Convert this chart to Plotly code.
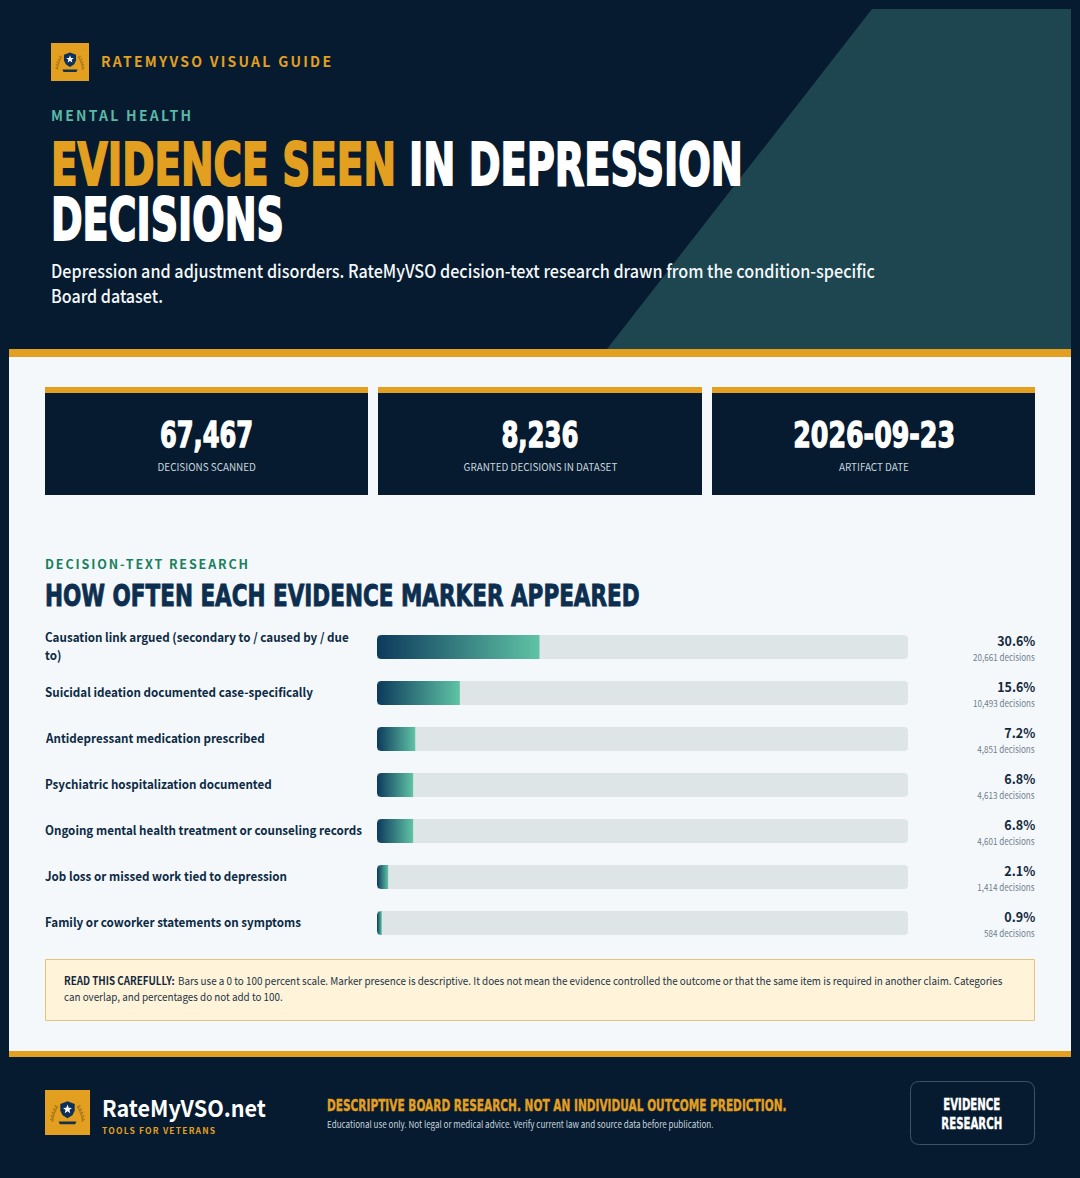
import json
import numpy as np
import plotly.graph_objects as go

W, H = 1080, 1178

categories = [
    "Causation link argued (secondary to / caused by / due<br>to)",
    "Suicidal ideation documented case-specifically",
    "Antidepressant medication prescribed",
    "Psychiatric hospitalization documented",
    "Ongoing mental health treatment or counseling records",
    "Job loss or missed work tied to depression",
    "Family or coworker statements on symptoms",
]
percents = [30.6, 15.6, 7.2, 6.8, 6.8, 2.1, 0.9]
counts = [20661, 10493, 4851, 4613, 4601, 1414, 584]
stat_values = ["67,467", "8,236", "2026-09-23"]
stat_labels = ["DECISIONS SCANNED", "GRANTED DECISIONS IN DATASET", "ARTIFACT DATE"]

NAVY = "#061b2f"; GOLD = "#e3a020"; PANEL = "#f4f8fb"; TEAL = "#1d4650"; TRACK = "#dde5e7"
INK = "#0c2a44"
SANS = "Noto Sans CJK SC"
HEAVY = "DejaVu Sans"

px_x = lambda x: x / W
px_y = lambda y: 1 - y / H
annotations, shapes, fx = [], [], {}

def T(text, x, y, size, color, family=SANS, weight=400, anchor="left", w=None, adj="glyphs", stroke=None, sx=None):
    i = len(annotations)
    annotations.append(dict(text=text, x=px_x(x), y=px_y(y), xref="paper", yref="paper", showarrow=False,
                            xanchor=anchor, yanchor="middle", align=anchor, borderpad=0, borderwidth=0,
                            font=dict(family=family, size=size, color=color, weight=weight)))
    e = {}
    if w: e.update(w=w, adj=adj)
    if sx: e.update(sx=sx)
    if stroke: e.update(stroke=stroke, col=color)
    if e: fx[i] = e

def rect(x0, y0, x1, y1, fill, line=None, lw=0):
    shapes.append(dict(type="rect", xref="paper", yref="paper", x0=px_x(x0), x1=px_x(x1), y0=px_y(y0), y1=px_y(y1),
                       fillcolor=fill, line=dict(color=line or fill, width=lw), layer="below"))

def path(points, fill=None, line=None, lw=0, close=True):
    d = "M" + " L".join(f"{px_x(a):.5f},{px_y(b):.5f}" for a, b in points) + (" Z" if close else "")
    shapes.append(dict(type="path", path=d, xref="paper", yref="paper", fillcolor=fill or "rgba(0,0,0,0)",
                       line=dict(color=line or "rgba(0,0,0,0)", width=lw), layer="below"))

def logo(x, y, s):
    rect(x, y, x + s, y + s, GOLD)
    P = lambda u, v: (x + u * s, y + v * s)
    for side in (-1, 1):
        arc = [P(.5 + side * (.16 + .17 * np.sin(t)), .26 + t * .28) for t in np.linspace(.35, 1.6, 7)]
        path(arc, line="#b07a1a", lw=max(1, s / 30), close=False)
        for t in np.linspace(.45, 1.5, 5):
            a = P(.5 + side * (.16 + .17 * np.sin(t)), .26 + t * .28)
            b = (a[0] + side * s * .05, a[1] - s * .045)
            path([a, b], line="#b07a1a", lw=max(1, s / 28), close=False)
    path([P(.34, .31), P(.5, .25), P(.66, .31), P(.66, .46), P(.61, .56), P(.5, .63), P(.39, .56), P(.34, .46)], fill="#0e2f57")
    star = [P(.5 + (.105 if k % 2 == 0 else .045) * np.sin(k * np.pi / 5), .43 - (.105 if k % 2 == 0 else .045) * np.cos(k * np.pi / 5)) for k in range(10)]
    path(star, fill="#ffffff")
    path([P(.3, .7), P(.7, .7), P(.67, .76), P(.33, .76)], fill="#17304a")

# frame and header
path([(872, 9), (1071, 9), (1071, 349), (607, 349)], fill=TEAL)
rect(9, 349, 1071, 357, GOLD)
rect(9, 357, 1071, 1051, PANEL)
rect(9, 1051, 1071, 1057, GOLD)

logo(51, 43, 38)
T("RATEMYVSO VISUAL GUIDE", 101, 61.5, 14, GOLD, weight=700, w=230, adj="spacing")
T("MENTAL HEALTH", 51, 115.5, 14, "#5bb8a6", weight=700, w=140, adj="spacing")
T("EVIDENCE SEEN", 51, 165, 58, GOLD, HEAVY, 700, w=345, stroke=2)
T("IN DEPRESSION", 409, 165, 58, "#ffffff", HEAVY, 700, w=334, stroke=2)
T("DECISIONS", 51, 220, 58, "#ffffff", HEAVY, 700, w=233, stroke=2)
T("Depression and adjustment disorders. RateMyVSO decision-text research drawn from the condition-specific", 51, 270, 18, "#f4f8fb", weight=500, w=824)
T("Board dataset.", 51, 295, 18, "#f4f8fb", weight=500, w=112)

# stat cards
for (x0, x1), v, l, vw in zip([(45, 368), (378, 702), (712, 1035)], stat_values, stat_labels, [93, 77, 162]):
    rect(x0, 387, x1, 393, GOLD)
    rect(x0, 393, x1, 495, NAVY)
    c = (x0 + x1) / 2
    T(v, c, 434.5, 36, "#ffffff", HEAVY, 700, "center", w=vw, stroke=1.4)
    T(l, c, 465.5, 11, "#c9d5de", anchor="center", sx=0.9)

# section heading
T("DECISION-TEXT RESEARCH", 45, 563.5, 12.5, "#17805f", weight=700, w=203, adj="spacing")
T("HOW OFTEN EACH EVIDENCE MARKER APPEARED", 45, 594.5, 31, "#0d2f4f", HEAVY, 700, w=595, stroke=1)

# rows
row_px = lambda i: 647 + 46 * i
for i, (cat, p, n) in enumerate(zip(categories, percents, counts)):
    lines = cat.split("<br>")
    for k, line in enumerate(lines):
        T(line, 45, row_px(i) - 1.5 + (k - (len(lines) - 1) / 2) * 18, 12.5, INK, weight=700, sx=0.93)
    T(f"{p}%", 1035, row_px(i) - 7.5, 13.5, "#14293d", weight=700, anchor="right", w=38 if p >= 10 else 31)
    T(f"{n:,} decisions", 1035, row_px(i) + 9.5, 9.5, "#6f7e8b", anchor="right", sx=0.85)

# note
rect(45.5, 959.5, 1034.5, 1020.5, "#fff3d9", "#e2c47c", 1)
T("READ THIS CAREFULLY:", 64, 979.5, 11, "#14293d", weight=700, w=111)
T("Bars use a 0 to 100 percent scale. Marker presence is descriptive. It does not mean the evidence controlled the outcome or that the same item is required in another claim. Categories", 177.5, 979.5, 11, "#223548", w=824.5)
T("can overlap, and percentages do not add to 100.", 64, 995.5, 11, "#223548", w=219)

# footer
logo(45, 1090, 45)
T("RateMyVSO.net", 102, 1106.5, 23, "#ffffff", weight=700, w=164)
T("TOOLS FOR VETERANS", 102, 1129.5, 8.5, GOLD, weight=700, w=113, adj="spacing")
T("DESCRIPTIVE BOARD RESEARCH. NOT AN INDIVIDUAL OUTCOME PREDICTION.", 327, 1105, 16, GOLD, HEAVY, 700, w=460, stroke=0.4)
T("Educational use only. Not legal or medical advice. Verify current law and source data before publication.", 327, 1123.5, 9.5, "#c9d5de", w=387)
r = 9; bx0, by0, bx1, by1 = 910.5, 1081.5, 1034.5, 1144.5
shapes.append(dict(type="path", xref="paper", yref="paper", layer="below", fillcolor="rgba(0,0,0,0)", line=dict(color="#3f5468", width=1),
    path=(f"M{px_x(bx0+r)},{px_y(by0)} L{px_x(bx1-r)},{px_y(by0)} Q{px_x(bx1)},{px_y(by0)} {px_x(bx1)},{px_y(by0+r)} "
          f"L{px_x(bx1)},{px_y(by1-r)} Q{px_x(bx1)},{px_y(by1)} {px_x(bx1-r)},{px_y(by1)} L{px_x(bx0+r)},{px_y(by1)} "
          f"Q{px_x(bx0)},{px_y(by1)} {px_x(bx0)},{px_y(by1-r)} L{px_x(bx0)},{px_y(by0+r)} Q{px_x(bx0)},{px_y(by0)} {px_x(bx0+r)},{px_y(by0)} Z")))
T("EVIDENCE", 972, 1104, 16, "#ffffff", HEAVY, 700, "center", w=57, stroke=0.4)
T("RESEARCH", 972, 1123, 16, "#ffffff", HEAVY, 700, "center", w=61, stroke=0.4)

# chart geometry: plot spans the 0-100 scale
plot_l, plot_r, plot_t, plot_b = 377, 908, 624, 946
bar_h = 24 / 46
ux, uy = 100 / (plot_r - plot_l), 7 / (plot_b - plot_t)   # data units per pixel
rows = list(range(len(categories)))

def left_rounded(v, row, rad=4):
    a = np.linspace(0, np.pi / 2, 6)
    rx = min(rad, v / ux) * ux; ry = rad * uy
    t, b = row - bar_h / 2, row + bar_h / 2
    xs = [v, v] + list(rx - rx * np.sin(a)) + list(rx - rx * np.cos(a))
    ys = [t, b] + list(b - ry + ry * np.cos(a)) + list(t + ry - ry * np.sin(a))
    return xs + [v], ys + [t]

fig = go.Figure()
fig.add_bar(x=[100] * len(rows), y=rows, orientation="h", width=bar_h, marker=dict(color=TRACK, line=dict(width=0)),
            hoverinfo="skip", showlegend=False)
for row, p in zip(rows, percents):
    xs, ys = left_rounded(p, row)
    fig.add_scatter(x=xs, y=ys, mode="lines", line=dict(width=0), fill="toself", showlegend=False, hoverinfo="skip",
                    fillgradient=dict(type="horizontal", colorscale=[[0, "#0d3a5c"], [1, "#5fc3a5"]]))

fig.update_layout(width=W, height=H, margin=dict(l=0, r=0, t=0, b=0), paper_bgcolor=NAVY, plot_bgcolor="rgba(0,0,0,0)",
                  barcornerradius=4, showlegend=False, shapes=shapes, annotations=annotations,
                  xaxis=dict(domain=[plot_l / W, plot_r / W], range=[0, 100], visible=False, fixedrange=True),
                  yaxis=dict(domain=[1 - plot_b / H, 1 - plot_t / H], range=[6.5, -0.5], visible=False, fixedrange=True))

post = """
document.body.style.margin='0';document.documentElement.style.overflow='hidden';
var FX=%s;
document.querySelectorAll('.annotation').forEach(function(g){
  var e=FX[g.getAttribute('data-index')]; if(!e) return;
  var t=g.querySelector('text.annotation-text');
  var nat=t.getComputedTextLength();
  var s=e.sx||null;
  if(e.w&&e.adj==='spacing'){t.setAttribute('textLength',e.w);t.setAttribute('lengthAdjust','spacing');}
  else if(e.w){s=e.w/nat;}
  if(s){
    var bg=g.querySelector('rect.bg');
    var px=parseFloat(t.getAttribute('x'))||0;
    t.setAttribute('transform','matrix('+s+',0,0,1,'+(px*(1-s))+',0)');
    if(bg&&s<1){var a=t.getAttribute('text-anchor')||t.style.textAnchor;var w0=parseFloat(bg.getAttribute('width'));var x0=parseFloat(bg.getAttribute('x'))||0;
      bg.setAttribute('width',w0*s);
      if(a==='middle')bg.setAttribute('x',x0+w0*(1-s)/2);
      if(a==='end')bg.setAttribute('x',x0+w0*(1-s));}
  }
  if(e.stroke){t.style.stroke=e.col;t.style.strokeWidth=(e.stroke)+'px';t.style.strokeLinejoin='miter';}
});
""" % json.dumps(fx)
fig.write_html("out.html", post_script=post, config={"displayModeBar": False})
